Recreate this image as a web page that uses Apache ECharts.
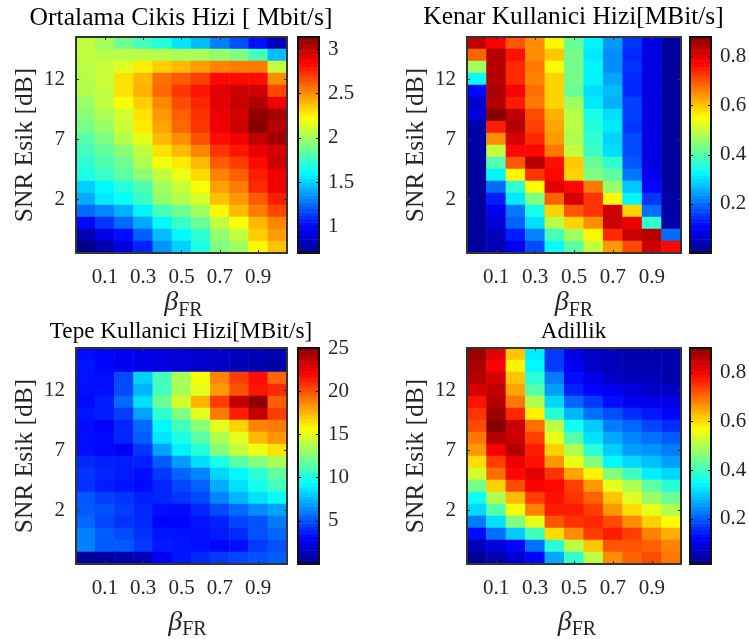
<!DOCTYPE html>
<html><head><meta charset="utf-8">
<style>html,body{margin:0;padding:0;background:#fff}#c{width:749px;height:639px}</style>
<script src="https://cdn.jsdelivr.net/npm/echarts@6/dist/echarts.min.js"></script>
</head><body><div id="c"></div>
<script>
const betaLabels = ['0','0.1','0.2','0.3','0.4','0.5','0.6','0.7','0.8','0.9','1'];
const snrLabels = ['-2','-1','0','1','2','3','4','5','6','7','8','9','10','11','12','13','14','15'];
// rows listed from the top of the picture (15 dB) to the bottom (-2 dB)
const avgRate = [
[2.08,2.00,1.88,1.78,1.70,1.55,1.45,1.30,1.18,1.02,0.82],
[2.08,2.05,2.05,2.05,2.05,2.02,2.02,1.97,1.92,1.78,1.45],
[2.06,2.10,2.15,2.27,2.35,2.40,2.47,2.53,2.55,2.56,2.08],
[2.05,2.10,2.30,2.40,2.58,2.63,2.70,2.83,2.83,2.82,2.50],
[2.04,2.08,2.30,2.42,2.60,2.72,2.80,2.92,2.97,2.96,2.68],
[1.98,2.08,2.22,2.35,2.52,2.67,2.76,2.92,2.98,3.04,2.88],
[1.95,2.03,2.12,2.30,2.48,2.62,2.73,2.90,2.95,3.12,3.07],
[1.90,1.98,2.10,2.28,2.45,2.60,2.72,2.88,2.97,3.14,3.02],
[1.82,1.92,2.05,2.17,2.40,2.50,2.65,2.82,2.88,3.00,3.08],
[1.77,1.85,1.95,2.08,2.30,2.40,2.52,2.72,2.80,2.90,2.95],
[1.72,1.80,1.88,2.03,2.20,2.28,2.40,2.63,2.70,2.83,2.98],
[1.68,1.74,1.83,1.95,2.08,2.18,2.32,2.53,2.62,2.78,2.88],
[1.50,1.60,1.70,1.80,2.00,2.10,2.22,2.46,2.55,2.75,2.88],
[1.41,1.56,1.63,1.75,1.97,2.05,2.13,2.38,2.48,2.63,2.78],
[1.25,1.32,1.42,1.58,1.78,1.88,2.00,2.25,2.40,2.55,2.68],
[1.00,1.12,1.25,1.40,1.60,1.75,1.88,2.08,2.22,2.40,2.52],
[0.80,0.93,1.02,1.22,1.45,1.60,1.72,1.97,2.08,2.35,2.47],
[0.71,0.79,0.91,1.07,1.35,1.50,1.68,1.92,2.00,2.25,2.38]];
const edgeRate = [
[.83,.78,.70,.65,.56,.42,.32,.24,.15,.08,.02],
[.69,.84,.76,.65,.60,.43,.31,.23,.14,.08,.02],
[.47,.84,.74,.67,.55,.43,.32,.23,.15,.08,.02],
[.33,.84,.74,.66,.59,.43,.32,.25,.14,.08,.02],
[.11,.85,.78,.68,.59,.42,.30,.27,.14,.08,.02],
[.06,.84,.75,.67,.59,.47,.31,.26,.16,.08,.02],
[.07,.88,.83,.71,.62,.49,.35,.30,.16,.08,.02],
[.03,.75,.84,.72,.63,.49,.36,.31,.15,.08,.02],
[.03,.65,.81,.74,.64,.48,.37,.29,.17,.08,.02],
[.03,.50,.77,.77,.67,.50,.38,.30,.17,.08,.02],
[.02,.40,.70,.84,.76,.60,.42,.37,.18,.08,.02],
[.02,.32,.56,.73,.77,.59,.44,.41,.21,.09,.02],
[.02,.20,.37,.55,.80,.77,.67,.46,.28,.11,.02],
[.02,.13,.31,.44,.69,.81,.73,.55,.32,.15,.03],
[.02,.09,.21,.35,.59,.70,.73,.82,.59,.20,.03],
[.02,.07,.19,.30,.49,.59,.65,.82,.79,.37,.03],
[.02,.05,.13,.22,.39,.47,.56,.74,.82,.84,.20],
[.02,.04,.09,.17,.33,.41,.50,.64,.71,.82,.77]];
const peakRate = [
[3.2,3.0,2.7,2.4,2.2,2.0,1.8,1.6,1.4,1.2,1.0],
[3.5,3.0,2.6,2.4,2.2,2.0,1.7,1.5,1.2,1.0,0.8],
[3.4,3.3,4.8,8.2,11.0,13.5,15.6,18.7,20.5,21.7,19.5],
[3.3,3.3,4.8,7.5,11.0,13.5,15.0,18.2,20.0,21.5,21.0],
[3.2,3.7,5.6,8.5,12.0,14.6,17.5,20.5,23.5,24.8,19.7],
[3.5,3.7,4.5,7.0,10.5,12.5,15.0,19.0,21.3,23.5,20.5],
[3.3,2.9,3.9,5.6,9.3,11.0,12.7,15.0,16.8,18.7,19.0],
[3.3,3.2,3.9,5.3,8.7,10.0,11.5,13.7,15.0,17.4,18.3],
[3.3,3.1,2.7,4.3,7.0,9.0,10.3,12.7,14.2,15.3,16.4],
[4.0,3.8,3.7,3.8,5.2,6.9,8.5,10.0,11.5,12.6,13.6],
[4.3,3.9,3.6,3.3,4.4,5.5,6.3,8.3,9.2,10.4,11.7],
[4.2,3.7,3.4,3.2,3.9,4.7,5.4,7.3,8.6,9.8,11.0],
[5.1,4.5,4.3,3.8,3.9,4.3,4.8,6.3,7.5,8.6,9.4],
[5.2,5.0,4.5,4.0,3.3,3.2,3.9,4.8,5.6,6.5,7.0],
[5.5,4.7,4.2,4.0,2.9,3.0,3.4,3.8,4.7,5.0,6.0],
[6.2,5.3,4.8,4.2,3.5,3.4,3.3,3.6,4.0,5.0,5.5],
[6.2,5.2,5.2,4.4,3.6,3.5,3.3,3.1,3.3,4.4,5.0],
[0.5,0.7,1.0,1.2,2.7,3.5,4.0,4.4,4.7,5.0,5.3]];
const fairness = [
[.88,.82,.62,.33,.17,.10,.07,.06,.05,.05,.05],
[.87,.80,.58,.34,.17,.11,.07,.06,.05,.05,.05],
[.86,.83,.62,.38,.23,.13,.10,.07,.06,.06,.05],
[.83,.85,.65,.42,.26,.15,.12,.11,.09,.07,.07],
[.78,.86,.69,.50,.31,.21,.17,.13,.11,.10,.10],
[.75,.88,.76,.58,.38,.28,.22,.19,.16,.14,.12],
[.73,.90,.84,.70,.51,.36,.30,.23,.21,.18,.16],
[.69,.86,.84,.74,.55,.42,.32,.27,.24,.22,.20],
[.66,.80,.86,.77,.61,.50,.38,.30,.26,.25,.23],
[.60,.74,.81,.78,.66,.55,.46,.34,.31,.29,.26],
[.53,.70,.79,.82,.75,.65,.58,.46,.40,.33,.31],
[.45,.61,.73,.80,.79,.74,.66,.55,.50,.43,.38],
[.36,.50,.63,.74,.78,.75,.71,.62,.54,.48,.44],
[.31,.42,.56,.68,.77,.77,.74,.66,.60,.55,.50],
[.23,.32,.46,.55,.72,.75,.76,.73,.67,.61,.57],
[.13,.22,.30,.40,.60,.67,.74,.77,.74,.68,.64],
[.06,.09,.12,.22,.38,.51,.62,.72,.72,.71,.68],
[.03,.05,.08,.12,.27,.39,.51,.67,.71,.73,.69]];

const titles = ['Ortalama Cikis Hizi [ Mbit/s]','Kenar Kullanici Hizi[MBit/s]','Tepe Kullanici Hizi[MBit/s]','Adillik'];
const yName = 'SNR Esik [dB]';
const ranges = [[0.70,3.14],[0,0.88],[0,25],[0.015,0.90]];
const barTickValues = [[1,1.5,2,2.5,3],[0.2,0.4,0.6,0.8],[5,10,15,20,25],[0.2,0.4,0.6,0.8]];
const matrices = [avgRate,edgeRate,peakRate,fairness];

const FONT='Liberation Serif', INK='#262626', FRAME='#333333';
const layouts = [
 {x:76,y:37,w:211,h:216,bx:298,bw:21,tx:176,ty:0,ts:25.6,xn:29,xp:4},
 {x:467,y:37,w:214,h:216,bx:690,bw:21,tx:568.5,ty:0,ts:25.4,xn:29,xp:0},
 {x:76,y:348,w:211,h:216,bx:298,bw:21,tx:176,ty:315,ts:23.2,xn:41,xp:12},
 {x:467,y:348,w:214,h:216,bx:690,bw:21,tx:568.5,ty:315,ts:23.2,xn:41,xp:6}
];
function jet(t){
  const c=v=>Math.round(255*Math.max(0,Math.min(1,v)));
  return 'rgb('+c(1.5-Math.abs(4*t-3))+','+c(1.5-Math.abs(4*t-2))+','+c(1.5-Math.abs(4*t-1))+')';
}
const jetColors=[];for(let i=0;i<64;i++)jetColors.push(jet((i+.5)/64));

const opt={animation:false,backgroundColor:'#fff',title:[],grid:[],xAxis:[],yAxis:[],series:[],visualMap:[]};
const lineStyle={color:FRAME,width:2};
const barLine={color:'#111',width:2};
const oddTick=(i)=>i%2===1, snrTick=(i)=>i%5===4;
layouts.forEach((L,p)=>{
  const [mn,mx]=ranges[p];
  opt.title.push({text:titles[p],left:L.tx,top:L.ty,textAlign:'center',
    textStyle:{fontFamily:FONT,fontWeight:'normal',fontSize:L.ts,color:'#000'}});
  const gi=opt.grid.length;
  opt.grid.push({left:L.x,top:L.y,width:L.w,height:L.h,show:false,outerBoundsMode:'none'});
  opt.grid.push({left:L.bx,top:L.y,width:L.bw,height:L.h,show:false,outerBoundsMode:'none'});
  const xi=opt.xAxis.length, yi=opt.yAxis.length;
  const catBase={type:'category',z:5,axisLine:{show:true,onZero:false,lineStyle},splitLine:{show:false},splitArea:{show:false}};
  const xt={show:true,inside:true,length:3,interval:oddTick,alignWithLabel:true,lineStyle:{color:FRAME}};
  const yt={show:true,inside:true,length:3,interval:snrTick,alignWithLabel:true,lineStyle:{color:FRAME}};
  opt.xAxis.push(Object.assign({},catBase,{gridIndex:gi,data:betaLabels,position:'bottom',
    name:'{b|β}{s|FR}',nameLocation:'middle',nameGap:L.xn,
    nameTextStyle:{padding:[0,0,0,L.xp],rich:{b:{fontFamily:FONT,fontStyle:'italic',fontSize:28,color:INK},s:{fontFamily:FONT,fontSize:20,color:INK,padding:[15,0,0,0]}}},
    axisTick:xt,
    axisLabel:{show:true,interval:oddTick,margin:14,fontFamily:FONT,fontSize:21,color:INK}}));
  opt.xAxis.push(Object.assign({},catBase,{gridIndex:gi,data:betaLabels,position:'top',axisTick:xt,axisLabel:{show:false}}));
  opt.yAxis.push(Object.assign({},catBase,{gridIndex:gi,data:snrLabels,position:'left',
    name:yName,nameLocation:'middle',nameRotate:90,nameGap:38,
    nameTextStyle:{fontFamily:FONT,fontSize:25.5,color:INK},
    axisTick:yt,
    axisLabel:{show:true,interval:snrTick,margin:11,fontFamily:FONT,fontSize:21,color:INK}}));
  opt.yAxis.push(Object.assign({},catBase,{gridIndex:gi,data:snrLabels,position:'right',axisTick:yt,axisLabel:{show:false}}));
  const data=[];
  matrices[p].forEach((row,r)=>row.forEach((v,c)=>data.push([c,snrLabels.length-1-r,v])));
  const si=opt.series.length;
  opt.series.push({type:'heatmap',xAxisIndex:xi,yAxisIndex:yi,data,progressive:0,silent:true,itemStyle:{borderWidth:0}});
  // colourbar: one heatmap cell per colour level
  const levels=jetColors.map((_,i)=>String(i));
  const bxi=opt.xAxis.length, byi=opt.yAxis.length;
  const barX={gridIndex:gi+1,type:'category',data:['c'],z:5,axisLine:{show:true,onZero:false,lineStyle:barLine},axisTick:{show:false},axisLabel:{show:false}};
  opt.xAxis.push(Object.assign({},barX,{position:'bottom'}));
  opt.xAxis.push(Object.assign({},barX,{position:'top'}));
  opt.yAxis.push({gridIndex:gi+1,type:'category',data:levels,position:'left',z:1,axisLine:{show:false},axisTick:{show:false},axisLabel:{show:false}});
  const ticks=barTickValues[p];
  const vbase={gridIndex:gi+1,type:'value',min:mn,max:mx,z:5,splitLine:{show:false},
    axisLine:{show:true,onZero:false,lineStyle:barLine},
    axisTick:{show:true,inside:true,length:3,customValues:ticks,lineStyle:{color:'#111'}}};
  opt.yAxis.push(Object.assign({},vbase,{position:'right',
    axisLabel:{show:true,margin:9,fontFamily:FONT,fontSize:21,color:INK,customValues:ticks,formatter:v=>String(v)}}));
  opt.yAxis.push(Object.assign({},vbase,{position:'left',axisLabel:{show:false}}));
  const cells=levels.map((_,i)=>[0,i,mn+(i+.5)/64*(mx-mn)]);
  const bi=opt.series.length;
  opt.series.push({type:'heatmap',xAxisIndex:bxi,yAxisIndex:byi,data:cells,progressive:0,silent:true,itemStyle:{borderWidth:0}});
  opt.visualMap.push({type:'continuous',show:false,min:mn,max:mx,dimension:2,seriesIndex:[si,bi],inRange:{color:jetColors}});
});
echarts.init(document.getElementById('c'),null,{renderer:'canvas'}).setOption(opt);
</script>
</body></html>
